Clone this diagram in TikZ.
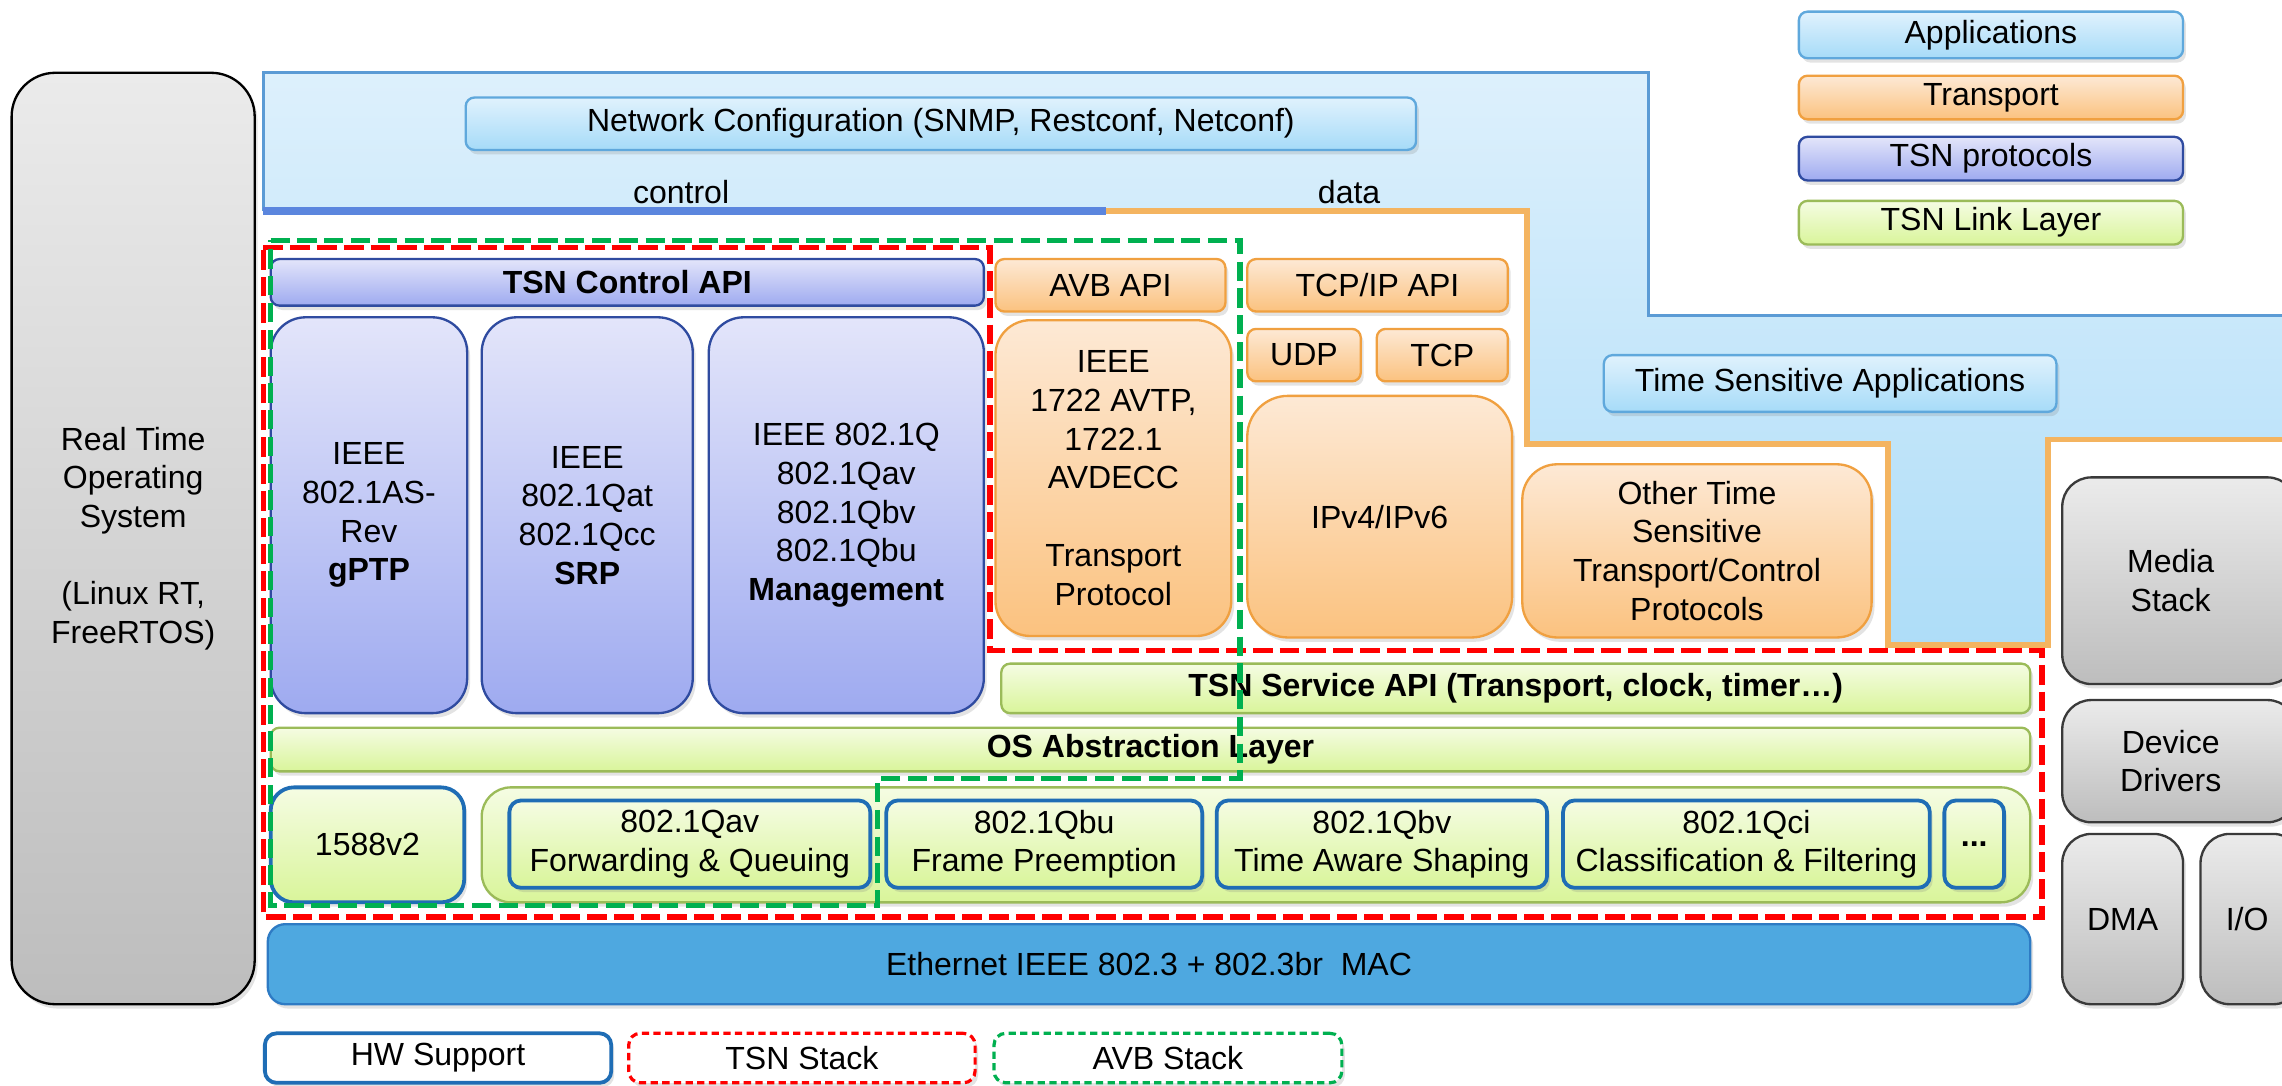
\documentclass[tikz,border=0pt]{standalone}
\usepackage{fontspec}
\setmainfont{Liberation Sans}
\usetikzlibrary{shadows}
\definecolor{appt}{HTML}{E0F2FD}
\definecolor{appbot}{HTML}{A6DBF8}
\definecolor{appb}{HTML}{5FA8DC}
\definecolor{trt}{HTML}{FDE9D5}
\definecolor{trbot}{HTML}{FBC27F}
\definecolor{trb}{HTML}{F0A040}
\definecolor{tsnt}{HTML}{E3E5FA}
\definecolor{tsnbot}{HTML}{9EAAF0}
\definecolor{tsnb}{HTML}{2F4BA0}
\definecolor{lnkt}{HTML}{F5FCE3}
\definecolor{lnkbot}{HTML}{D9F59A}
\definecolor{lnkb}{HTML}{9BBB59}
\definecolor{hwb}{HTML}{1F6DB5}
\definecolor{grt}{HTML}{EBEBEB}
\definecolor{grbot}{HTML}{BDBDBD}
\definecolor{grb}{HTML}{3A3A3A}
\definecolor{ethf}{HTML}{4EA8E0}
\definecolor{ethb}{HTML}{2E7BC4}
\definecolor{regt}{HTML}{DDF0FC}
\definecolor{regbot}{HTML}{AEDDF8}
\definecolor{regb}{HTML}{5B9BD5}
\definecolor{ctrlc}{HTML}{5B86DE}
\definecolor{datac}{HTML}{F4B460}
\definecolor{tsnred}{HTML}{FF0000}
\definecolor{avbgreen}{HTML}{00B050}
\newcommand\myfs{\fontsize{11}{13.3}\selectfont}
\newcommand\mybox[7]{%
  \pgfmathsetmacro\mbw{(#5-#3)*0.5}%
  \pgfmathsetmacro\mbh{(#6-#4)*0.5}%
  \node[#2, minimum width=\mbw pt, minimum height=\mbh pt] (#1) at ({(#3+#5)/2},{(#4+#6)/2}) {#7};}
\tikzset{
  boxbase/.style={rounded corners=3pt, font=\myfs, align=center, inner sep=0pt,
    drop shadow={shadow xshift=1pt, shadow yshift=-1.5pt, opacity=0.22}},
  appbox/.style={boxbase, draw=appb, line width=0.8pt, top color=appt, bottom color=appbot},
  trbox/.style={boxbase, draw=trb, line width=0.8pt, top color=trt, bottom color=trbot},
  tsnbox/.style={boxbase, draw=tsnb, line width=0.8pt, top color=tsnt, bottom color=tsnbot},
  linkbox/.style={boxbase, draw=lnkb, line width=0.8pt, top color=lnkt, bottom color=lnkbot},
  hwbox/.style={linkbox, draw=hwb, line width=1.3pt, rounded corners=4pt},
  graybox/.style={boxbase, draw=grb, line width=0.8pt, top color=grt, bottom color=grbot, rounded corners=10pt},
  ethbox/.style={boxbase, draw=ethb, line width=0.8pt, fill=ethf, rounded corners=6pt},
  reddash/.style={draw=tsnred, line width=2pt, dash pattern=on 6.8pt off 2.4pt},
  greendash/.style={draw=avbgreen, line width=1.8pt, dash pattern=on 6.6pt off 2.6pt},
  legbox/.style={boxbase, fill=white, rounded corners=4pt},
  plain/.style={font=\myfs, inner sep=0pt}
}
\begin{document}
\begin{tikzpicture}[x=0.5pt, y=-0.5pt]
\useasboundingbox (0,0) rectangle (1568,746);
\clip (0,0) rectangle (1568,746);
\fill[white] (0,0) rectangle (1568,746);
% application region
\fill[top color=regt, bottom color=regbot] (181,50) -- (1133,50) -- (1133,217) -- (1568,217) -- (1568,302) -- (1407,302) -- (1407,443) -- (1297,443) -- (1297,305) -- (1049,305) -- (1049,145) -- (181,145) -- cycle;
\draw[regb, line width=1pt] (181,145) -- (181,50) -- (1133,50) -- (1133,217) -- (1568,217);
\draw[ctrlc, line width=2.5pt] (181,145) -- (760,145);
\draw[datac, line width=2pt] (760,145) -- (1049,145) -- (1049,305) -- (1297,305) -- (1297,443) -- (1407,443) -- (1407,302) -- (1568,302);
\node[plain] (ctl) at (468,132) {control};
\node[plain] (dat) at (927,132) {data};
% legend top
\mybox{lapp}{appbox}{1236}{8}{1500}{40}{Applications}
\mybox{ltr}{trbox}{1236}{52}{1500}{82}{Transport}
\mybox{ltsn}{tsnbox}{1236}{94}{1500}{124}{TSN protocols}
\mybox{llnk}{linkbox}{1236}{138}{1500}{168}{TSN Link Layer}
% RTOS
\mybox{rtos}{graybox, rounded corners=15pt, draw=black}{8}{50}{175}{690}{\fontsize{11}{12.2}\selectfont Real Time\\Operating\\System\\~\\(Linux RT,\\FreeRTOS)}
% applications
\mybox{netc}{appbox}{320}{67}{973}{103}{Network Configuration (SNMP, Restconf, Netconf)}
\mybox{tsa}{appbox}{1102}{244}{1413}{283}{Time Sensitive Applications}
% TSN protocols
\mybox{tca}{tsnbox}{186}{178}{676}{210}{\textbf{TSN Control API}}
\mybox{gptp}{tsnbox, rounded corners=12pt}{186}{218}{321}{490}{IEEE\\802.1AS-\\Rev\\\textbf{gPTP}}
\mybox{srp}{tsnbox, rounded corners=12pt}{331}{218}{476}{490}{IEEE\\802.1Qat\\802.1Qcc\\\textbf{SRP}}
\mybox{mgmt}{tsnbox, rounded corners=12pt}{487}{218}{676}{490}{IEEE 802.1Q\\802.1Qav\\802.1Qbv\\802.1Qbu\\\textbf{Management}}
% transport
\mybox{avbapi}{trbox}{684}{178}{842}{214}{AVB API}
\mybox{avtp}{trbox, rounded corners=12pt}{684}{220}{846}{437}{\fontsize{11}{12.2}\selectfont IEEE\\1722 AVTP,\\1722.1\\AVDECC\\~\\Transport\\Protocol}
\mybox{tcpipapi}{trbox}{857}{178}{1036}{214}{TCP/IP API}
\mybox{udp}{trbox}{857}{226}{935}{262}{UDP}
\mybox{tcp}{trbox}{946}{226}{1036}{262}{TCP}
\mybox{ip}{trbox, rounded corners=14pt}{857}{272}{1039}{438}{IPv4/IPv6}
\mybox{other}{trbox, rounded corners=12pt}{1046}{319}{1286}{438}{Other Time\\Sensitive\\Transport/Control\\Protocols}
% link layer
\mybox{tsnsvc}{linkbox}{688}{456}{1395}{490}{\textbf{TSN Service API (Transport, clock, timer…)}}
\mybox{osal}{linkbox}{186}{500}{1395}{530}{\textbf{OS Abstraction Layer}}
\mybox{hwrow}{linkbox, rounded corners=10pt}{331}{541}{1395}{620}{}
\mybox{p1588}{hwbox, rounded corners=8pt}{186}{541}{319}{620}{1588v2}
\mybox{qav}{hwbox}{350}{550}{598}{610}{802.1Qav\\Forwarding \& Queuing}
\mybox{qbu}{hwbox}{609}{550}{826}{610}{802.1Qbu\\Frame Preemption}
\mybox{qbv}{hwbox}{836}{550}{1063}{610}{802.1Qbv\\Time Aware Shaping}
\mybox{qci}{hwbox}{1074}{550}{1326}{610}{802.1Qci\\Classification \& Filtering}
\mybox{dots}{hwbox}{1336}{550}{1377}{610}{\textbf{...}}
\mybox{eth}{ethbox}{184}{635}{1395}{690}{Ethernet IEEE 802.3 + 802.3br\ \ MAC}
% right gray boxes
\mybox{media}{graybox}{1417}{328}{1578}{470}{\hspace*{-6pt}Media\\\hspace*{-6pt}Stack}
\mybox{drv}{graybox}{1417}{481}{1578}{565}{\hspace*{-6pt}Device\\\hspace*{-6pt}Drivers}
\mybox{dma}{graybox}{1417}{573}{1500}{690}{DMA}
\mybox{io}{graybox}{1512}{573}{1582}{690}{I/O\hspace*{3pt}}
% stack outlines
\draw[reddash] (181,170) -- (680,170) -- (680,447) -- (1403,447) -- (1403,630) -- (181,630) -- cycle;
\draw[greendash] (186,165) -- (852,165) -- (852,535) -- (603,535) -- (603,622) -- (186,622) -- cycle;
% legend bottom
\mybox{lhw}{legbox, draw=hwb, line width=1.3pt}{182}{710}{420}{744}{HW Support}
\mybox{ltsnst}{legbox, draw=tsnred, line width=1.1pt, dash pattern=on 2.5pt off 1.5pt}{432}{710}{670}{744}{TSN Stack}
\mybox{lavb}{legbox, draw=avbgreen, line width=1.1pt, dash pattern=on 2.5pt off 1.5pt}{683}{710}{922}{744}{AVB Stack}
\end{tikzpicture}
\end{document}
